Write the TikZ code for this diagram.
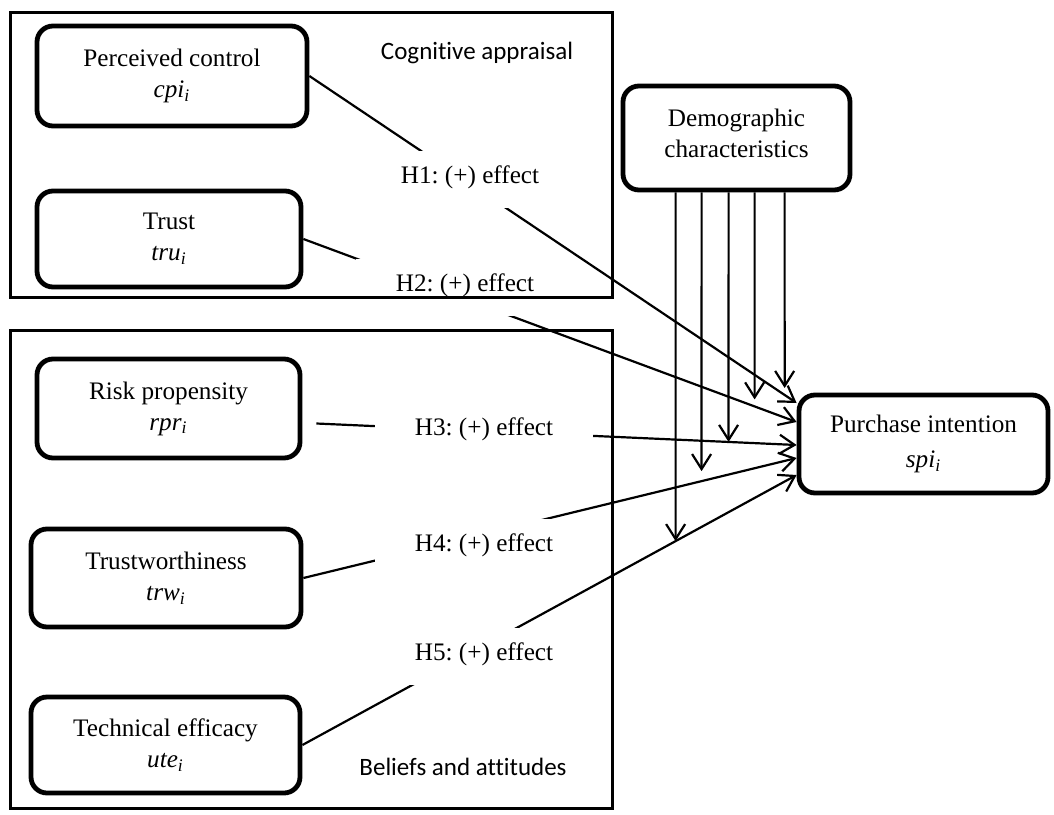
\documentclass[tikz,border=0pt]{standalone}
\usepackage{fontspec}
\setmainfont{Liberation Serif}
\newfontfamily\calibri[Ligatures=NoCommon]{Carlito}
\usetikzlibrary{arrows.meta,calc}
\newcommand{\sub}[2]{\textit{#1}\textsubscript{\textit{#2}}}
\frenchspacing
\begin{document}
\begin{tikzpicture}[x=0.5pt,y=-0.5pt,
  box/.style={draw,line width=2.4pt,rounded corners=8pt,align=center,inner sep=0pt,
    font=\fontsize{12.6pt}{15.5pt}\selectfont},
  frame/.style={draw,line width=1.5pt},
  conn/.style={line width=1.1pt,-{Straight Barb[length=7.5pt,width=9.5pt,line width=1.1pt]}},
  hyp/.style={fill=white,inner sep=0pt,minimum width=109pt,text height=16pt,text depth=12.5pt,
    anchor=base,font=\fontsize{12.6pt}{15pt}\selectfont},
  grp/.style={inner sep=0pt,font=\calibri\fontsize{12.5pt}{15pt}\selectfont}]
\useasboundingbox (0,0) rectangle (1054,814);

% construct boxes
\node[box,minimum width=135pt,minimum height=50pt] (pc) at (172,76) {Perceived control\\\sub{cpi}{i}};
\node[box,minimum width=132pt,minimum height=48pt] (tr) at (169,239) {Trust\\\sub{tru}{i}};
\node[box,minimum width=131.5pt,minimum height=49.5pt] (rp) at (168.5,408.5) {Risk propensity\\\sub{rpr}{i}};
\node[box,minimum width=135pt,minimum height=49pt] (tw) at (166,578) {Trustworthiness\\\sub{trw}{i}};
\node[box,minimum width=134.5pt,minimum height=48pt] (te) at (165.5,745) {Technical efficacy\\\sub{ute}{i}};
\node[box,minimum width=113.5pt,minimum height=52pt,text depth=5pt] (dm) at (736.5,138) {Demographic\\characteristics};
\node[box,minimum width=124.5pt,minimum height=49pt] (pi) at (923.5,444) {Purchase intention\\[2pt]\sub{spi}{i}};

% connector end points
\coordinate (s1) at (pc.east);
\coordinate (s2) at (tr.east);
\coordinate (s3) at ($(rp.east)+(14,15)$);
\coordinate (s4) at (tw.east);
\coordinate (s5) at (te.east);
\coordinate (e1) at ($(pi.west)+(0,-41)$);
\coordinate (e2) at ($(pi.west)+(0,-22)$);
\coordinate (e3) at ($(pi.west)+(0,1)$);
\coordinate (e4) at ($(pi.west)+(0,14)$);
\coordinate (e5) at ($(pi.west)+(0,31)$);

% hypothesis connectors
\draw[conn] (s1) -- (e1);
\draw[conn] (s2) -- (e2);
\draw[conn] (s3) -- (e3);
\draw[conn] (s4) -- (e4);
\draw[conn] (s5) -- (e5);

% moderating arrows from demographic characteristics
\coordinate (d1) at ($(dm.south west)+(55,0)$);
\coordinate (d2) at ($(dm.south west)+(81,0)$);
\coordinate (d3) at ($(dm.south west)+(108,0)$);
\coordinate (d4) at ($(dm.south west)+(134,0)$);
\coordinate (d5) at ($(dm.south west)+(164,0)$);
\coordinate (d1x) at ($(d1)+(0,600)$);
\coordinate (d2x) at ($(d2)+(0,600)$);
\coordinate (d3x) at ($(d3)+(0,600)$);
\coordinate (d4x) at ($(d4)+(0,600)$);
\coordinate (d5x) at ($(d5)+(0,600)$);
\coordinate (v1) at (intersection of s5--e5 and d1--d1x);
\coordinate (v2) at (intersection of s4--e4 and d2--d2x);
\coordinate (v3) at (intersection of s3--e3 and d3--d3x);
\coordinate (v4) at (intersection of s2--e2 and d4--d4x);
\coordinate (v5) at (intersection of s1--e1 and d5--d5x);
\draw[conn] (d1) -- (v1);
\draw[conn,shorten >=5pt] (d2) -- (v2);
\draw[conn] (d3) -- (v3);
\draw[conn,shorten >=3.5pt] (d4) -- (v4);
\draw[conn,shorten >=3.5pt] (d5) -- (v5);

% hypothesis labels
\node[hyp] (h1) at (470,183) {H1: (+) effect};
\node[hyp] (h2) at (465,291) {H2: (+) effect};
\node[hyp] (h3) at (484,435) {H3: (+) effect};
\node[hyp] (h4) at (484,551) {H4: (+) effect};
\node[hyp] (h5) at (484,660) {H5: (+) effect};

% group frames
\draw[frame] (10,12) rectangle (612,297);
\draw[frame] (10,330) rectangle (612,808);
\node[grp] (ca) at (477,53) {Cognitive appraisal};
\node[grp] (ba) at (463,767) {Beliefs and attitudes};
\end{tikzpicture}
\end{document}
